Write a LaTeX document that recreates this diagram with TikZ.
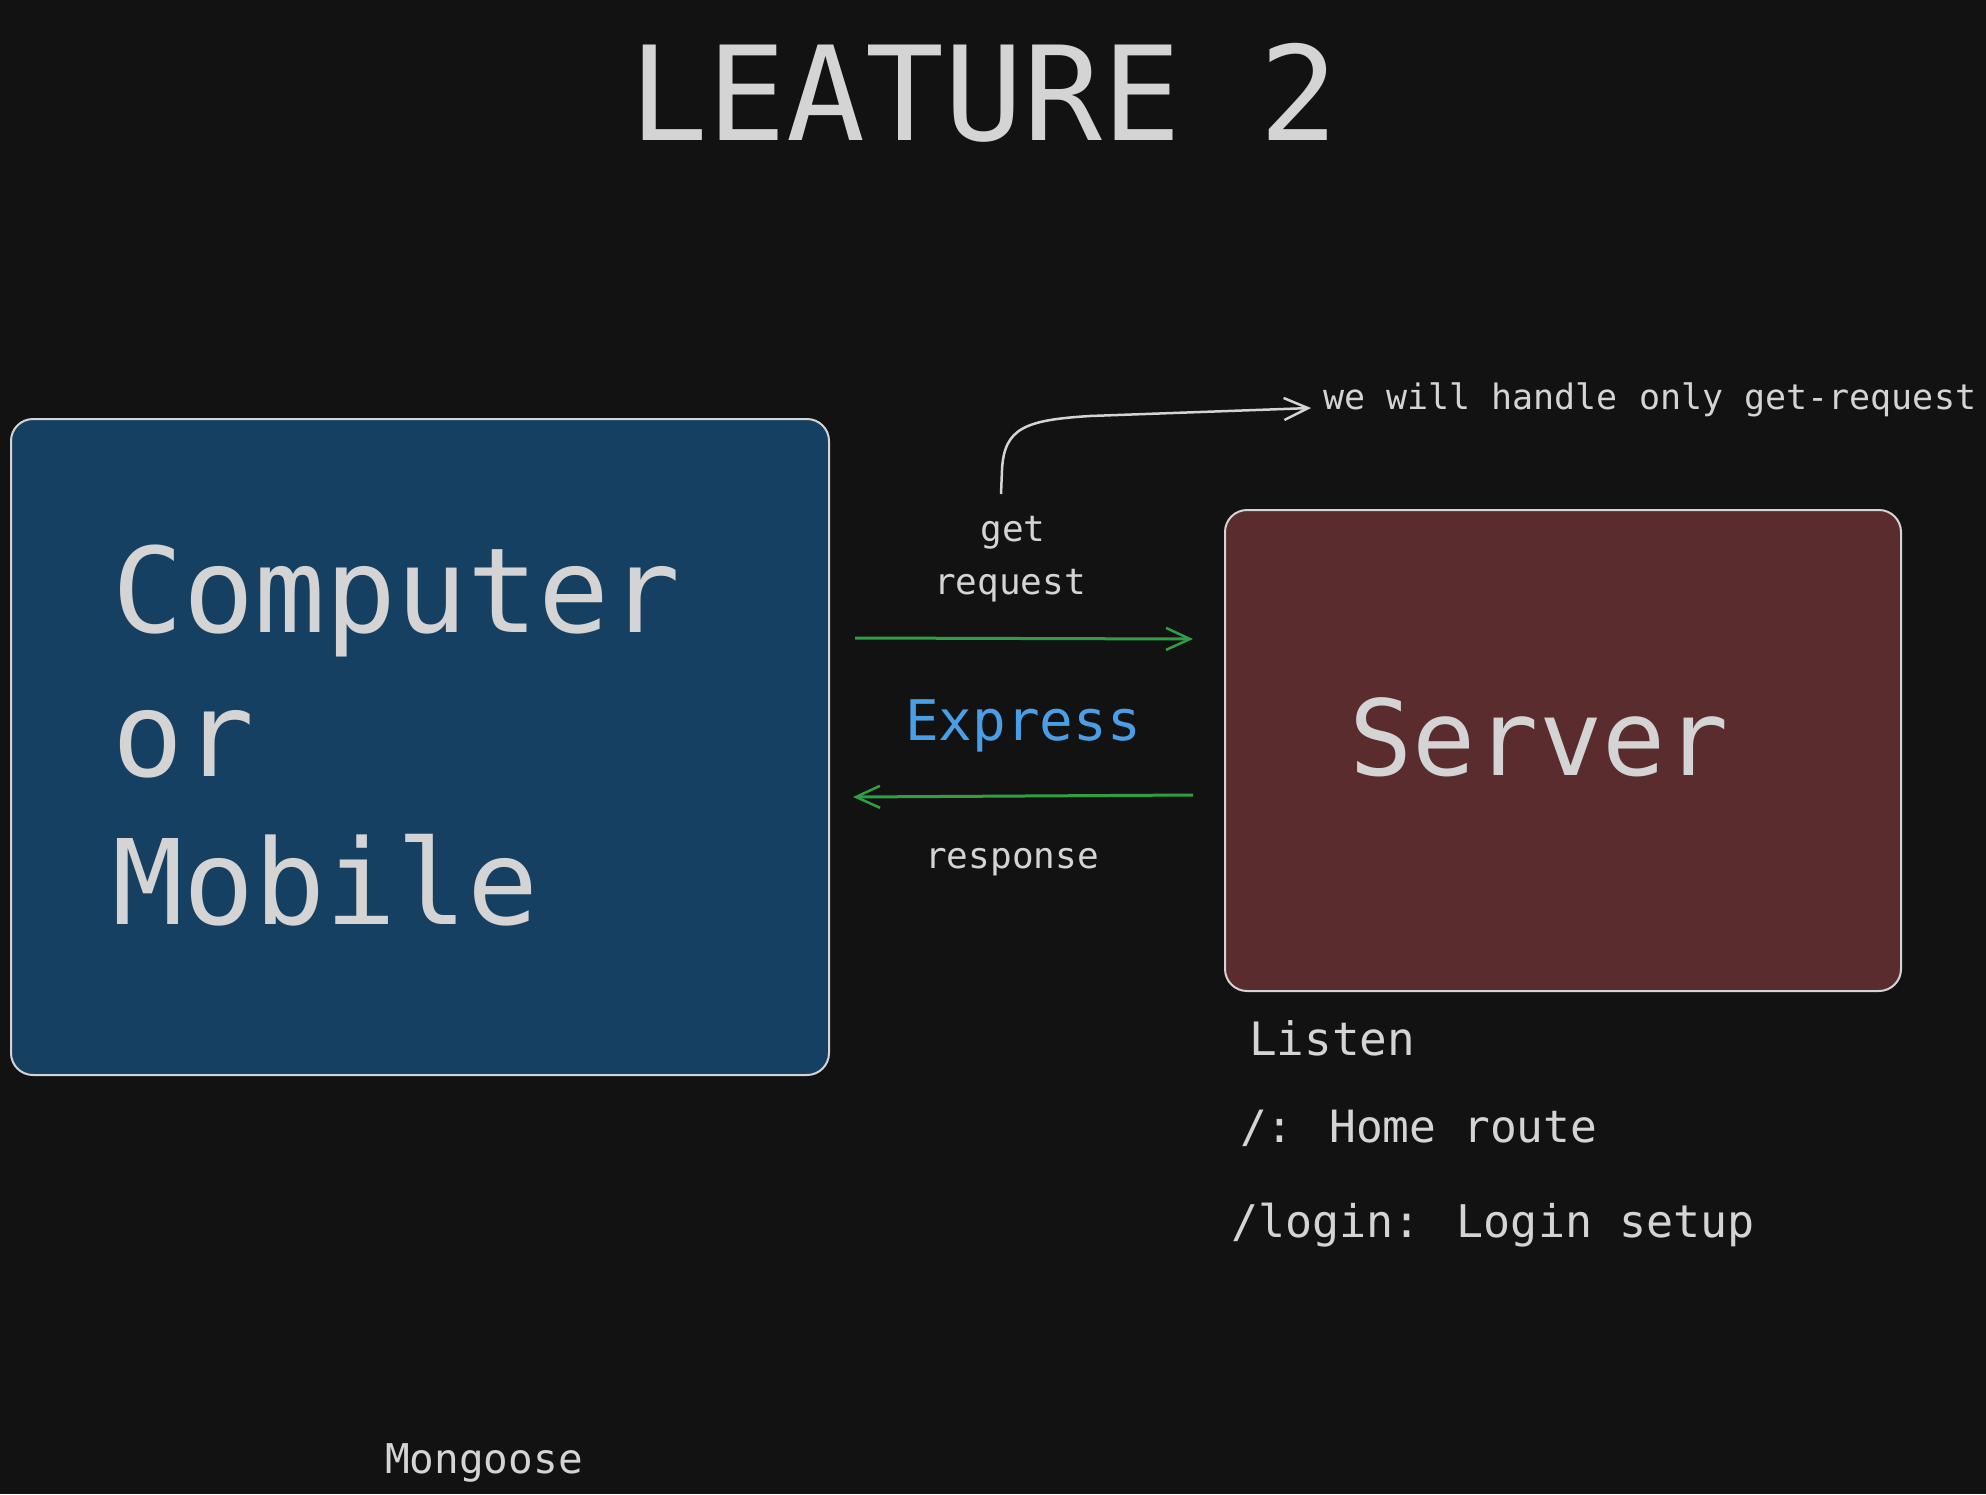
\documentclass[tikz,border=0pt]{standalone}
\usepackage{fontspec}
\setmainfont{DejaVu Sans Mono}
\usetikzlibrary{arrows.meta,calc}
\definecolor{bgc}{HTML}{121212}
\definecolor{txt}{HTML}{D4D4D4}
\definecolor{bluebox}{HTML}{164062}
\definecolor{redbox}{HTML}{5B2C2E}
\definecolor{grn}{HTML}{2F9E44}
\definecolor{expblue}{HTML}{4A9EE6}
\newcommand{\fs}[1]{\fontsize{#1}{#1}\selectfont}
\tikzset{
  txtnode/.style={inner sep=0pt, outer sep=0pt, text=txt},
  boxnode/.style={draw=txt, line width=2pt, rounded corners=22pt, inner sep=0pt, anchor=north west},
  garrow/.style={draw=grn, line width=3pt, -{Straight Barb[length=24pt,width=22pt,line width=2.5pt]}},
  warrow/.style={draw=txt, line width=2.5pt, -{Straight Barb[length=24pt,width=22pt,line width=2.5pt]}},
}
\begin{document}
\begin{tikzpicture}[x=1pt,y=-1pt]
\useasboundingbox (0,0) rectangle (1986,1494);
\fill[bgc] (0,0) rectangle (1986,1494);
% title
\node[txtnode, anchor=base] (title) at (984,140) {\fs{131}LEATURE 2};
% boxes
\node[boxnode, fill=bluebox, minimum width=818pt, minimum height=656pt] (client) at (10,418) {};
\node[boxnode, fill=redbox, minimum width=676pt, minimum height=481pt] (server) at (1224,509) {};
% client text
\node[txtnode, anchor=base west] (cl1) at (112,632) {\fs{118}Computer};
\node[txtnode, anchor=base west] (cl2) at (112,776) {\fs{118}or};
\node[txtnode, anchor=base west] (cl3) at (112,924) {\fs{118}Mobile};
% server text
\node[txtnode, anchor=base] (srv) at (1539,775) {\fs{105}Server};
% labels
\node[txtnode, anchor=base] (get) at (1013,541) {\fs{36}get};
\node[txtnode, anchor=base] (req) at (1010,594) {\fs{36}request};
\node[txtnode, anchor=base, text=expblue] (express) at (1023,740) {\fs{56}Express};
\node[txtnode, anchor=base] (resp) at (1012,868) {\fs{36}response};
\node[txtnode, anchor=base west] (note) at (1323,409) {\fs{35}we will handle only get-request};
% arrows
\draw[garrow] ($(client.north east)+(25,220)$) -- ($(server.north west)+(-31,130)$);
\draw[garrow] ($(server.north west)+(-31,286)$) -- ($(client.north east)+(23,379)$);
\coordinate (cstart) at (1001,494);
\coordinate (cend) at ($(note.base west)+(-12,-1)$);
\draw[warrow] (cstart) -- (1002,470) .. controls (1004,428) and (1025,420) .. (1090,416) -- (cend);
% listen notes
\node[txtnode, anchor=base west] (listen) at (1249,1055) {\fs{46}Listen};
\node[txtnode, anchor=base west] (home) at (1240,1142) {\fs{44.5}/: Home route};
\node[txtnode, anchor=base west] (login) at (1231,1237) {\fs{45}/login: Login setup};
\node[txtnode, anchor=base] (mongoose) at (484,1473) {\fs{41}Mongoose};
\end{tikzpicture}
\end{document}
